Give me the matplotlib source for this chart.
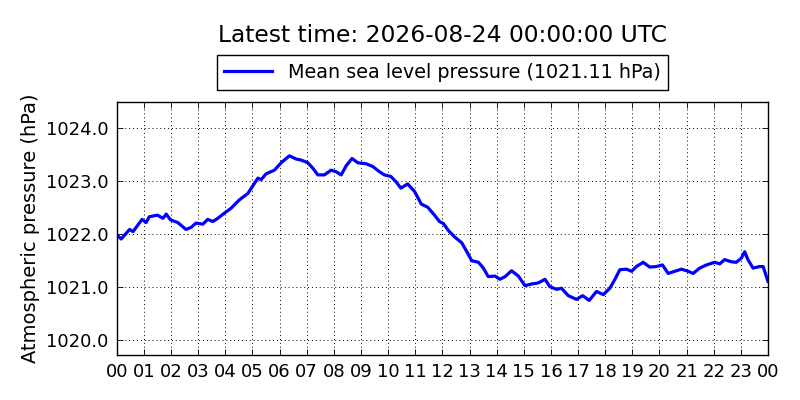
import matplotlib
matplotlib.use('Agg')
import matplotlib.pyplot as plt


TITLE = 'Latest time: 2026-08-24 00:00:00 UTC'
LABEL = 'Mean sea level pressure (1021.11 hPa)'

# hours since 00 UTC and pressure
hours = [0.0, 0.16, 0.47, 0.6, 0.93, 1.08, 1.2, 1.5, 1.7, 1.82, 1.98, 2.25, 2.55,
         2.74, 2.92, 3.17, 3.35, 3.54, 3.72, 3.97, 4.21, 4.52, 4.83, 5.01, 5.2,
         5.32, 5.5, 5.81, 6.06, 6.36, 6.61, 6.79, 7.04, 7.22, 7.41, 7.65, 7.9,
         8.08, 8.27, 8.45, 8.67, 8.88, 9.19, 9.43, 9.68, 9.86, 10.1, 10.29, 10.47,
         10.72, 10.97, 11.22, 11.46, 11.71, 11.89, 12.04, 12.22, 12.47, 12.71,
         12.9, 13.08, 13.33, 13.51, 13.69, 13.94, 14.12, 14.31, 14.55, 14.8,
         15.04, 15.29, 15.53, 15.78, 15.96, 16.21, 16.39, 16.64, 16.94, 17.17,
         17.41, 17.68, 17.93, 18.17, 18.36, 18.54, 18.79, 18.97, 19.15, 19.4,
         19.64, 19.89, 20.11, 20.32, 20.56, 20.81, 21.06, 21.24, 21.48, 21.73,
         22.04, 22.22, 22.4, 22.65, 22.83, 23.02, 23.14, 23.26, 23.45, 23.69,
         23.82, 24.0]
pressure = [1021.99, 1021.91, 1022.09, 1022.05, 1022.28, 1022.22, 1022.33, 1022.36,
            1022.30, 1022.38, 1022.27, 1022.22, 1022.09, 1022.13, 1022.21, 1022.19,
            1022.28, 1022.24, 1022.30, 1022.40, 1022.49, 1022.65, 1022.77, 1022.91,
            1023.06, 1023.03, 1023.14, 1023.21, 1023.35, 1023.48, 1023.42, 1023.40,
            1023.35, 1023.25, 1023.12, 1023.12, 1023.21, 1023.18, 1023.12, 1023.29,
            1023.43, 1023.35, 1023.33, 1023.28, 1023.18, 1023.12, 1023.09, 1022.99,
            1022.87, 1022.95, 1022.81, 1022.57, 1022.51, 1022.36, 1022.24, 1022.20,
            1022.07, 1021.94, 1021.84, 1021.67, 1021.50, 1021.47, 1021.36, 1021.20,
            1021.21, 1021.15, 1021.20, 1021.31, 1021.21, 1021.03, 1021.06, 1021.08,
            1021.15, 1021.01, 1020.96, 1020.98, 1020.84, 1020.77, 1020.84, 1020.75,
            1020.92, 1020.86, 1020.98, 1021.15, 1021.33, 1021.34, 1021.30, 1021.39,
            1021.47, 1021.38, 1021.39, 1021.42, 1021.26, 1021.30, 1021.34, 1021.30,
            1021.26, 1021.36, 1021.42, 1021.47, 1021.44, 1021.52, 1021.48, 1021.47,
            1021.55, 1021.67, 1021.52, 1021.36, 1021.39, 1021.39, 1021.11]

tick_hours = list(range(0, 25))
tick_labels = ['%02d' % (h % 24) for h in tick_hours]
y_ticks = [1020.0, 1021.0, 1022.0, 1023.0, 1024.0]


def pressure_graph():
    fig = plt.figure(figsize=(8, 4), dpi=100, facecolor='white')
    ax = fig.add_axes([0.146, 0.1125, 0.814, 0.633])

    ax.plot(hours, pressure, color='#0000ff', linewidth=2.3, label=LABEL)

    ax.set_xlim(0, 24)
    ax.set_ylim(1019.72, 1024.5)
    ax.set_xticks(tick_hours)
    ax.set_xticklabels(tick_labels)
    ax.set_yticks(y_ticks)
    ax.set_yticklabels(['%.1f' % v for v in y_ticks])
    ax.tick_params(direction='in', length=4, width=0.6, top=True, right=True,
                   labelsize=13, pad=6)
    ax.grid(True, color='black', linestyle=(0, (1, 3)), linewidth=0.7)
    for spine in ax.spines.values():
        spine.set_linewidth(1.0)

    ax.set_ylabel('Atmospheric pressure (hPa)', fontsize=14)
    ax.legend(loc='lower center', bbox_to_anchor=(0.5, 1.01), fontsize=13.8,
              fancybox=False, edgecolor='black', framealpha=1,
              handlelength=2.5, borderpad=0.4)
    # title centred over the axes, not the figure
    fig.text(0.553, 0.9125, TITLE, fontsize=16.8, ha='center', va='center')

    fig.savefig('out.png', dpi=100, facecolor='white')


if __name__ == "__main__":
    pressure_graph()
